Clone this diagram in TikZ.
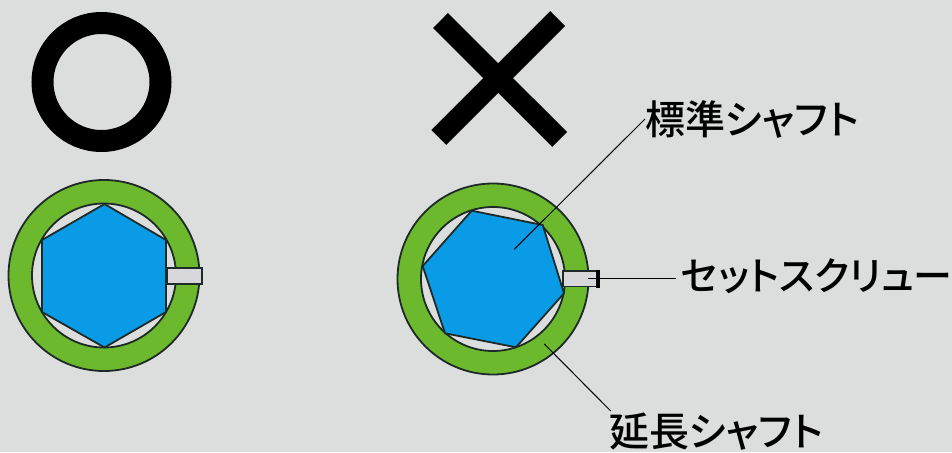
\documentclass[tikz,border=0pt]{standalone}
\usepackage{fontspec}
\newfontfamily\cjk[RawFeature=+palt]{Noto Sans CJK JP Medium}
\definecolor{bg}{HTML}{DCDEDD}
\definecolor{ringgreen}{HTML}{6DB92E}
\definecolor{shaftblue}{HTML}{0A9BE6}
\definecolor{screwgrey}{HTML}{D8D8DC}
\definecolor{edge}{HTML}{1E2A28}
\tikzset{
  ring/.style={fill=ringgreen,draw=edge,line width=1.8pt,even odd rule},
  shaft/.style={fill=shaftblue,draw=edge,line width=1.8pt,line join=round},
  screw/.style={fill=screwgrey,draw=edge,line width=1.4pt},
  leader/.style={draw=black,line width=1pt},
  mark stroke/.style={draw=black,line width=21pt},
  label/.style={font=\cjk\fontsize{40}{40}\selectfont,anchor=base west,inner sep=0pt,text=black},
}
\begin{document}
\begin{tikzpicture}[x=1pt,y=-1pt]
\useasboundingbox (0,0) rectangle (952,452);
\fill[bg] (0,0) rectangle (952,452);
% marks
\draw[draw=black,line width=22pt] (101.5,82) circle[radius=59];
\draw[mark stroke] (440.5,20.5) -- (559.7,139.5);
\draw[mark stroke] (557.7,18.5) -- (438.8,137.5);
% left assembly
\path[ring] (104,275.5) circle[radius=95.5] (104,275.5) circle[radius=72];
\draw[shaft] (104.5,204) -- (166,240) -- (166,312) -- (104.5,347.5) -- (42,312) -- (42,240) -- cycle;
\draw[screw] (167,268) rectangle (202,284);
% right assembly
\path[ring] (493,279) circle[radius=95.5] (493,279) circle[radius=72];
\draw[shaft] (471.7,210.7) -- (542.7,225) -- (564,293.3) -- (516,347.3) -- (445,333.3) -- (422.7,266) -- cycle;
\draw[screw] (563,271) rectangle (597,286.5);
\fill[black] (596,270) rectangle (600,287.5);
% labels
\node[label] (std) at (645,134) {標準シャフト};
\node[label,font=\cjk\fontsize{39}{39}\selectfont] (set) at (681,290.5) {セットスクリュー};
\node[label] (ext) at (609,446) {延長シャフト};
% leaders
\coordinate (stdIn) at (514.3,249.3);
\coordinate (stdOut) at (645,119);
\coordinate (setIn) at (588,278);
\coordinate (setOut) at (675.7,278);
\coordinate (extIn) at (544.3,344);
\coordinate (extOut) at (610.7,411);
\draw[leader] (stdIn) -- (stdOut);
\draw[leader] (setIn) -- (setOut);
\draw[leader] (extIn) -- (extOut);
\end{tikzpicture}
\end{document}
